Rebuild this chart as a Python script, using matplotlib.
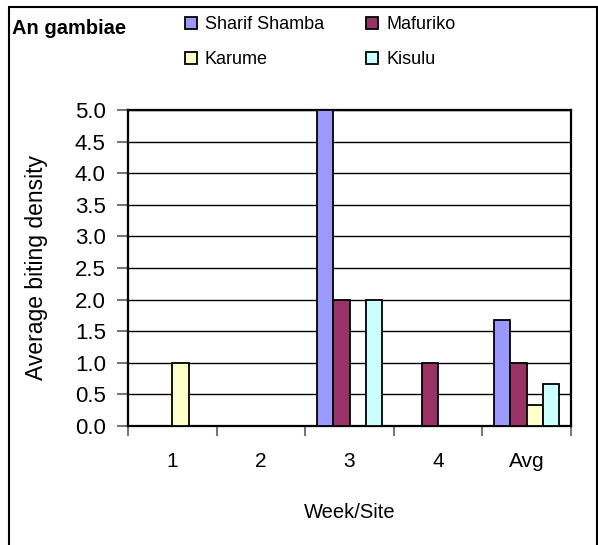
import matplotlib.pyplot as plt
import matplotlib
import numpy as np
from matplotlib.patches import Rectangle

matplotlib.rcParams['font.family'] = ['Liberation Sans', 'DejaVu Sans']

# data
weeks = ['1', '2', '3', '4', 'Avg']
sharif_shamba = [0, 0, 5.0, 0, 1.67]
mafuriko = [0, 0, 2.0, 1.0, 1.0]
karume = [1.0, 0, 0, 0, 0.33]
kisulu = [0, 0, 2.0, 0, 0.67]

series = [
    ('Sharif Shamba', sharif_shamba, '#9999FF'),
    ('Mafuriko', mafuriko, '#993366'),
    ('Karume', karume, '#FFFFCC'),
    ('Kisulu', kisulu, '#CCFFFF'),
]

fig = plt.figure(figsize=(5.98, 5.45), dpi=100)
ax = fig.add_axes([128 / 598, 1 - 426 / 545, (571 - 128) / 598, (426 - 110) / 545])

x = np.arange(len(weeks))
w = 0.184
handles = {}
for i, (name, vals, col) in enumerate(series):
    b = ax.bar(x + (i - 1.5) * w, vals, width=w, color=col, edgecolor='black',
               linewidth=1.3, label=name, zorder=3)
    handles[name] = b

ax.set_xlim(-0.5, len(weeks) - 0.5)
ax.set_ylim(0, 5)
ax.set_yticks(np.arange(0, 5.01, 0.5))
ax.set_yticklabels(['%.1f' % v for v in np.arange(0, 5.01, 0.5)], fontsize=16)
ax.yaxis.grid(True, color='black', linewidth=1)
ax.set_axisbelow(True)

# ticks on category boundaries, labels at centres
ax.set_xticks(np.arange(-0.5, len(weeks), 1.0))
ax.set_xticklabels([])
ax.set_xticks(x, minor=True)
ax.set_xticklabels(weeks, minor=True, fontsize=15)
ax.tick_params(axis='x', which='minor', length=0, pad=19)
ax.tick_params(axis='x', which='major', length=7, width=1.5, color='#777777', direction='out')
ax.tick_params(axis='y', length=8, width=1.5, color='#777777', pad=8)

for s in ax.spines.values():
    s.set_linewidth(1.6)
    s.set_color('black')

ax.set_xlabel('Week/Site', fontsize=14.5, labelpad=23)
ax.set_ylabel('Average biting density', fontsize=16.5, labelpad=19)

fig.text(12 / 598, 1 - 28 / 545, 'An gambiae', fontsize=14.5, fontweight='bold',
         ha='left', va='center')

# legend fills column by column, so order gives rows: Sharif/Mafuriko, Karume/Kisulu
order = ['Sharif Shamba', 'Karume', 'Mafuriko', 'Kisulu']
fig.legend(handles=[handles[n] for n in order], labels=order, loc='upper left',
           bbox_to_anchor=(185 / 598, 1 - 16 / 545),
           ncol=2, frameon=False, fontsize=13, handlelength=0.65, handleheight=0.65,
           handletextpad=0.45, columnspacing=2.35, labelspacing=1.0, borderpad=0,
           borderaxespad=0)

# outer chart border
fig.patches.append(Rectangle((9 / 598, -0.02), (597 - 9) / 598, 1.02 - 7 / 545,
                             transform=fig.transFigure, fill=False,
                             edgecolor='black', linewidth=1.5))

plt.savefig('out.png', dpi=100)
